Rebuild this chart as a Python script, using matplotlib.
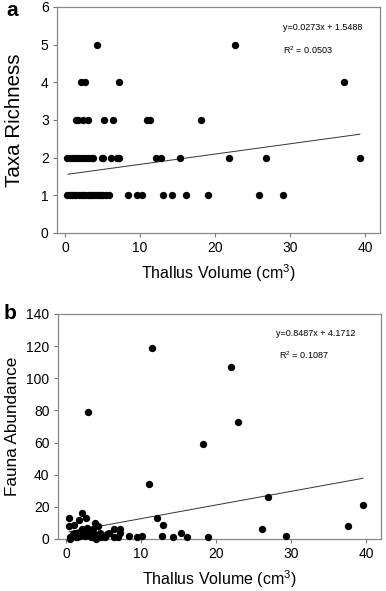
import matplotlib
matplotlib.use('Agg')
import matplotlib.pyplot as plt
import numpy as np

plt.rcParams['font.family'] = ['Liberation Sans', 'DejaVu Sans']
plt.rcParams['mathtext.default'] = 'regular'

# Panel a: taxa richness vs thallus volume
vol_a = [0.3, 0.6, 0.9, 1.2, 1.5, 1.8, 2.1, 2.4, 2.7, 3.0, 3.3, 3.6, 3.9, 4.2, 4.5, 4.8, 5.1, 5.5, 5.8,
         8.4, 9.6, 10.2, 13.0, 14.3, 16.1, 19.0, 25.9, 29.0,
         0.3, 0.7, 1.1, 1.5, 1.9, 2.3, 2.7, 3.1, 3.5, 3.7, 4.9, 5.1, 6.1, 6.9, 7.2,
         12.1, 12.8, 15.3, 21.8, 26.8, 39.3,
         1.5, 1.7, 2.4, 3.0, 5.2, 6.4, 10.9, 11.3, 18.1,
         2.1, 2.7, 7.2, 37.2,
         4.2, 22.6]
taxa = [1] * 28 + [2] * 21 + [3] * 9 + [4] * 4 + [5] * 2

# Panel b: fauna abundance vs thallus volume
vol_b = [11.5, 22.0, 2.9, 22.9, 18.3, 11.1, 27.0, 39.6, 37.6, 26.1, 29.3, 19.0, 16.1, 15.3, 14.3,
         13.0, 12.1, 12.8, 10.2, 9.5, 8.4, 7.2, 7.2, 6.9, 6.4, 6.4, 5.8,
         0.4, 2.2, 2.7, 1.7, 1.1, 0.4, 3.9, 4.3, 3.0, 2.3, 1.6, 0.5,
         0.8, 1.0, 1.3, 1.9, 2.0, 2.5, 2.8, 3.2, 3.4, 3.6, 3.8, 4.1, 4.6, 4.9, 5.2, 5.5,
         0.6, 1.5, 2.6, 3.3, 4.0, 4.7, 1.2, 2.1, 3.5]
fauna = [119, 107, 79, 73, 59, 34, 26, 21, 8, 6, 2, 1, 1, 4, 1,
         9, 13, 2, 2, 1, 2, 6, 4, 1, 6, 1, 4,
         13, 16, 13, 12, 9, 8, 10, 8, 6, 5, 4, 1,
         2, 3, 1, 2, 5, 3, 7, 4, 2, 6, 3, 1, 4, 2, 1, 3,
         0, 1, 2, 1, 0, 1, 4, 6, 2]

fits = {
    'a': dict(slope=0.0273, icpt=1.5488, r2='0.0503', x0=0.4, x1=39.3),
    'b': dict(slope=0.8487, icpt=4.1712, r2='0.1087', x0=0.4, x1=39.6),
}

fig = plt.figure(figsize=(3.86, 5.91), dpi=100)
ax1 = fig.add_axes([0.1477, 0.6058, 0.837, 0.3824])
ax2 = fig.add_axes([0.150, 0.088, 0.837, 0.3807])

# ax, x, y, key, ylabel, ylabel size, ylabel x, ylim, yticks, text positions
panels = [
    (ax1, vol_a, taxa, 'a', 'Taxa Richness', 14.8, -0.102, (0, 6), np.arange(0, 7, 1),
     (0.70, 0.907, 0.70, 0.81)),
    (ax2, vol_b, fauna, 'b', 'Fauna Abundance', 12.3, -0.117, (0, 140), np.arange(0, 141, 20),
     (0.676, 0.915, 0.685, 0.818)),
]

for ax, xs, ys, key, ylab, ysz, ylx, ylim, yt, tpos in panels:
    f = fits[key]
    ax.scatter(xs, ys, s=28, color='black', zorder=3, clip_on=False, linewidths=0)
    lx = np.array([f['x0'], f['x1']])
    ax.plot(lx, f['slope'] * lx + f['icpt'], color='#333333', lw=0.7, zorder=2)
    ax.set_xlim(-1.07, 42)
    ax.set_ylim(*ylim)
    ax.set_xticks([0, 10, 20, 30, 40])
    ax.set_yticks(yt)
    ax.tick_params(direction='out', length=3, width=0.8, color='#777777', labelsize=10,
                   top=False, right=False, pad=3)
    for s in ax.spines.values():
        s.set_color('#888888')
        s.set_linewidth(0.9)
    ax.set_ylabel(ylab, fontsize=ysz)
    ax.yaxis.set_label_coords(ylx, 0.5)
    ax.set_xlabel('Thallus Volume (cm$^3$)', fontsize=11.5, labelpad=5)
    ax.text(tpos[0], tpos[1], f"y={f['slope']}x + {f['icpt']}", transform=ax.transAxes,
            fontsize=6.5, va='center', ha='left')
    ax.text(tpos[2], tpos[3], f"R$^2$ = {f['r2']}", transform=ax.transAxes,
            fontsize=6.5, va='center', ha='left')

fig.text(0.031, 0.982, 'a', fontsize=15, fontweight='bold', va='center', ha='center')
fig.text(0.026, 0.469, 'b', fontsize=15, fontweight='bold', va='center', ha='center')

fig.savefig('out.png', dpi=100)
